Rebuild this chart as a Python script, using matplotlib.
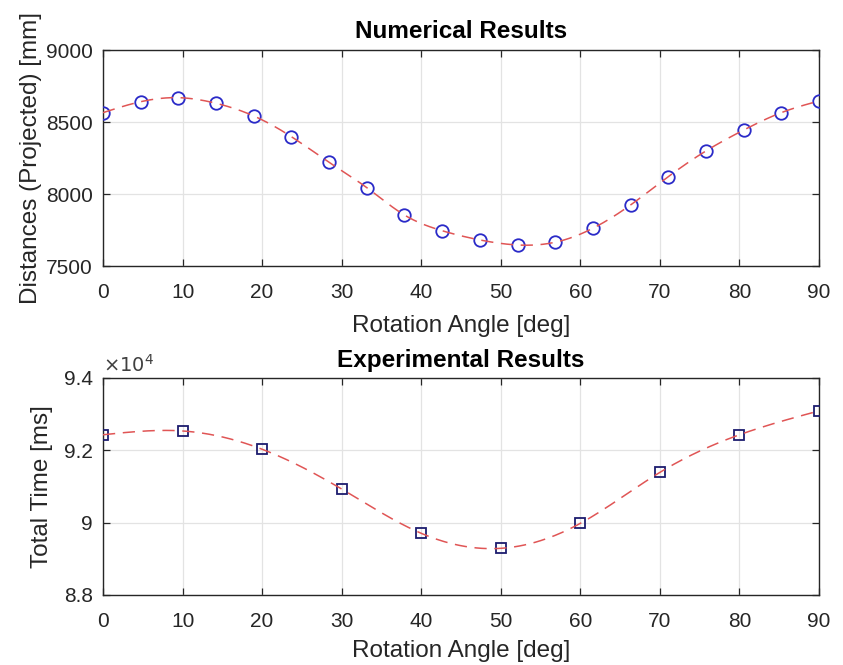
import numpy as np
import matplotlib
matplotlib.use("Agg")
import matplotlib.pyplot as plt
from matplotlib.ticker import FuncFormatter

plt.rcParams['font.family'] = ['Liberation Sans', 'DejaVu Sans']

# ---- data ----
num_angles = [0, 4.74, 9.47, 14.21, 18.95, 23.68, 28.42, 33.16, 37.89, 42.63,
              47.37, 52.11, 56.84, 61.58, 66.32, 71.05, 75.79, 80.53, 85.26, 90]
num_dist = [8565, 8641, 8669, 8630, 8542, 8398, 8220, 8044, 7854, 7745,
            7681, 7646, 7665, 7762, 7924, 8120, 8299, 8444, 8565, 8646]

exp_angles = [0, 10, 20, 30, 40, 50, 60, 70, 80, 90]
exp_time = [92430, 92535, 92030, 90930, 89705, 89290, 89980, 91390, 92430, 93090]

x_ticks = [0, 10, 20, 30, 40, 50, 60, 70, 80, 90]
top_yticks = [7500, 8000, 8500, 9000]
bot_yticks = [88000, 90000, 92000, 94000]


def spline_natural(x, y, xs):
    """Natural cubic spline through (x, y) evaluated at xs."""
    x = np.asarray(x, float); y = np.asarray(y, float)
    n = len(x)
    h = np.diff(x)
    A = np.zeros((n, n)); b = np.zeros(n)
    A[0, 0] = 1.0
    A[-1, -1] = 1.0
    for i in range(1, n - 1):
        A[i, i - 1] = h[i - 1]
        A[i, i] = 2 * (h[i - 1] + h[i])
        A[i, i + 1] = h[i]
        b[i] = 6 * ((y[i + 1] - y[i]) / h[i] - (y[i] - y[i - 1]) / h[i - 1])
    M = np.linalg.solve(A, b)
    xs = np.asarray(xs, float)
    idx = np.clip(np.searchsorted(x, xs) - 1, 0, n - 2)
    xi, xi1 = x[idx], x[idx + 1]
    hi = xi1 - xi
    Mi, Mi1 = M[idx], M[idx + 1]
    yi, yi1 = y[idx], y[idx + 1]
    return (Mi * (xi1 - xs) ** 3 / (6 * hi) + Mi1 * (xs - xi) ** 3 / (6 * hi)
            + (yi / hi - Mi * hi / 6) * (xi1 - xs) + (yi1 / hi - Mi1 * hi / 6) * (xs - xi))


fig = plt.figure(figsize=(8.43, 6.65), dpi=100)
fig.patch.set_facecolor('white')
ax1 = fig.add_axes([0.1222, 0.600, 0.8493, 0.3248])
ax2 = fig.add_axes([0.1222, 0.1053, 0.8493, 0.3263])

line_col = '#e05555'
dash = (8.0, 5.0)
txt_col = '#262626'
lab_fs = 17.5

# top
xs1 = np.linspace(num_angles[0], num_angles[-1], 400)
ax1.plot(num_angles, num_dist, linestyle='none', marker='o', markersize=9,
         markerfacecolor='none', markeredgecolor='#2a2ac8', markeredgewidth=1.3, zorder=3)
ax1.plot(xs1, spline_natural(num_angles, num_dist, xs1), color=line_col, lw=1.1,
         dashes=dash, zorder=4)
ax1.set_xlim(0, 90)
ax1.set_ylim(7500, 9000)
ax1.set_yticks(top_yticks)
ax1.set_title('Numerical Results', fontsize=lab_fs, fontweight='bold', pad=8.5)
ax1.set_xlabel('Rotation Angle [deg]', fontsize=lab_fs)
ax1.set_ylabel('Distances (Projected) [mm]', fontsize=lab_fs)
ax1.xaxis.set_label_coords(0.5, -0.227)
ax1.yaxis.set_label_coords(-0.0852, 0.5)

# bottom
xs2 = np.linspace(exp_angles[0], exp_angles[-1], 400)
ax2.plot(exp_angles, exp_time, linestyle='none', marker='s', markersize=7,
         markerfacecolor='none', markeredgecolor='#1c1c6e', markeredgewidth=1.3, zorder=3)
ax2.plot(xs2, spline_natural(exp_angles, exp_time, xs2), color=line_col, lw=1.1,
         dashes=dash, zorder=4)
ax2.set_xlim(0, 90)
ax2.set_ylim(88000, 94000)
ax2.set_yticks(bot_yticks)
ax2.yaxis.set_major_formatter(FuncFormatter(lambda v, p: '%g' % (v / 1e4)))
ax2.set_title('Experimental Results', fontsize=lab_fs, fontweight='bold', pad=7.8)
ax2.set_xlabel('Rotation Angle [deg]', fontsize=lab_fs)
ax2.set_ylabel('Total Time [ms]', fontsize=lab_fs)
ax2.xaxis.set_label_coords(0.5, -0.207)
ax2.yaxis.set_label_coords(-0.0698, 0.5)
ax2.text(0.0, 1.012, r'$\times10^{4}$', transform=ax2.transAxes, fontsize=14,
         ha='left', va='bottom', color='#404040')

for ax in (ax1, ax2):
    ax.set_xticks(x_ticks)
    ax.grid(True, color='#e3e3e3', lw=0.9)
    ax.set_axisbelow(True)
    ax.tick_params(direction='in', length=5, width=0.9, top=True, right=True,
                   labelsize=15, colors=txt_col)
    ax.tick_params(axis='x', pad=12)
    ax.tick_params(axis='y', pad=7.2)
    for s in ax.spines.values():
        s.set_color(txt_col)
        s.set_linewidth(1.0)
    ax.xaxis.label.set_color(txt_col)
    ax.yaxis.label.set_color(txt_col)

fig.savefig('out.png', dpi=100, facecolor='white')
